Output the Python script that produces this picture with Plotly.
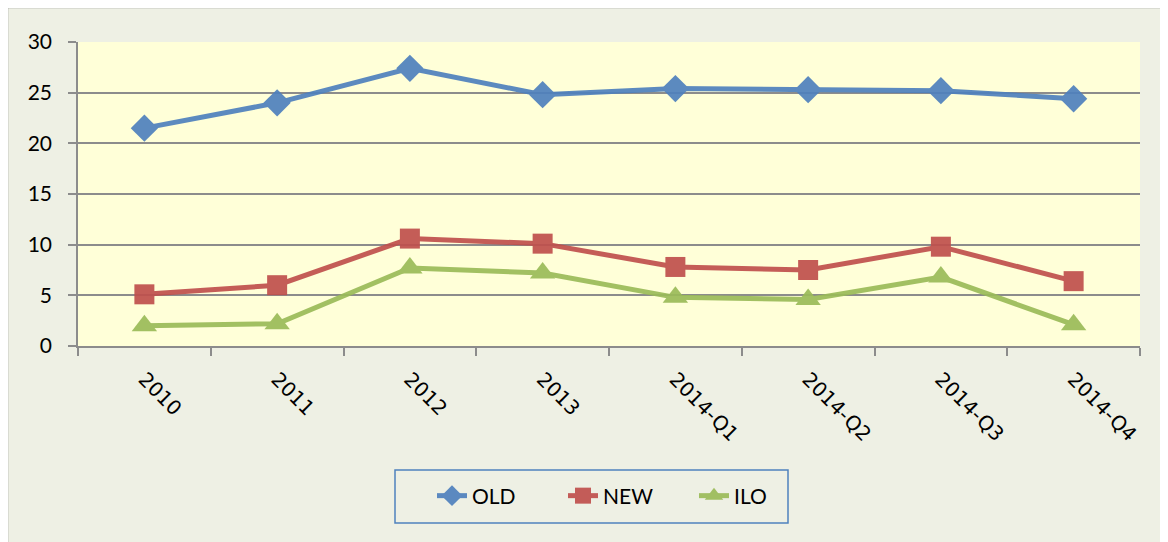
import plotly.graph_objects as go

categories = ["2010", "2011", "2012", "2013", "2014-Q1", "2014-Q2", "2014-Q3", "2014-Q4"]
old_vals = [21.5, 24.0, 27.4, 24.8, 25.4, 25.3, 25.2, 24.4]
new_vals = [5.1, 6.0, 10.6, 10.1, 7.8, 7.5, 9.8, 6.4]
ilo_vals = [2.0, 2.2, 7.7, 7.2, 4.8, 4.6, 6.8, 2.1]

# page body has an 8px margin, so figure coordinates = page coordinates - 8
OFF = 8
W, H = 1168 - OFF, 542 - OFF
L, R, T, B = 78 - OFF, 1140 - OFF, 42 - OFF, 346 - OFF

def px(x):
    return (x - OFF - L) / (R - L)

def py(y):
    return (B - (y - OFF)) / (B - T)

fig = go.Figure()
fig.add_trace(go.Scatter(x=categories, y=old_vals, name="OLD", mode="lines+markers",
                         line=dict(color="#4F81BD", width=5),
                         marker=dict(symbol="diamond", size=21, color="#4F81BD")))
fig.add_trace(go.Scatter(x=categories, y=new_vals, name="NEW", mode="lines+markers",
                         line=dict(color="#C0504D", width=5),
                         marker=dict(symbol="square", size=20, color="#C0504D")))
fig.add_trace(go.Scatter(x=categories, y=ilo_vals, name="ILO", mode="lines+markers",
                         line=dict(color="#9BBB59", width=5),
                         marker=dict(symbol="triangle-up", size=22, color="#9BBB59")))

fig.update_traces(opacity=0.92)

fig.update_layout(
    width=W, height=H,
    margin=dict(l=L, r=W - R, t=T, b=H - B, pad=0),
    paper_bgcolor="#EEF0E4",
    plot_bgcolor="#FFFFD8",
    font=dict(family="Lato, Carlito, sans-serif", size=20, color="black"),
    showlegend=True,
    legend=dict(orientation="h", x=px(432), xanchor="left", y=py(496), yanchor="middle",
                borderwidth=0, bgcolor="rgba(0,0,0,0)",
                font=dict(size=21, family="Lato, sans-serif"),
                entrywidth=86, traceorder="normal"),
    shapes=[
        dict(type="rect", xref="paper", yref="paper",
             x0=px(7), x1=px(1300), y0=py(7), y1=py(700),
             line=dict(color="#9A9A9A", width=2.5), fillcolor="rgba(0,0,0,0)", layer="below"),
        dict(type="rect", xref="paper", yref="paper",
             x0=px(395), x1=px(788), y0=py(470), y1=py(523),
             line=dict(color="#4F81BD", width=1.5), fillcolor="rgba(0,0,0,0)", layer="below"),
    ],
)

fig.update_xaxes(type="category", tickson="boundaries", ticks="outside", ticklen=8,
                 tickcolor="#8C8C8C", tickwidth=1.5, showline=True, linecolor="#8C8C8C",
                 linewidth=1.5, showgrid=False, tickangle=45,
                 tickfont=dict(family="DejaVu Sans, Verdana, sans-serif", size=20),
                 ticklabelstandoff=12,
                 range=[-0.5, 7.5], fixedrange=True)
fig.update_yaxes(range=[0, 30], dtick=5, ticks="outside", ticklen=8, tickcolor="#8C8C8C",
                 tickwidth=1.5, showline=True, linecolor="#8C8C8C", linewidth=1.5,
                 showgrid=True, gridcolor="#8C8C8C", gridwidth=1.5, zeroline=False,
                 tickfont=dict(size=21), ticklabelstandoff=12)

fig.write_html("out.html")
